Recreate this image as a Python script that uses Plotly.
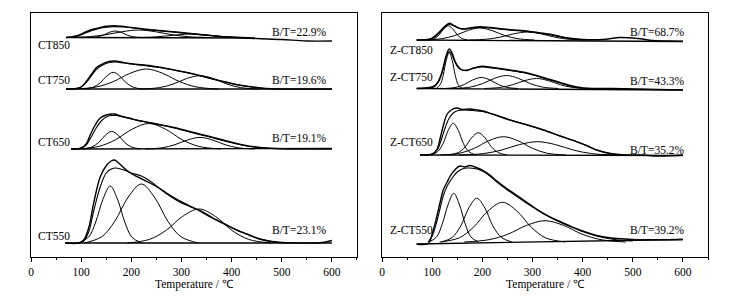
import plotly.graph_objects as go

# ---------------- data (heights above each profile's baseline) ----------------
# Left panel
ct550_exp_t = [68, 95, 105, 115, 125, 138, 151, 160, 167, 175, 190, 205, 217, 237, 255, 270, 290, 305, 320, 333, 350, 370, 390, 410, 430, 456, 480, 510, 560, 585, 600]
ct550_exp_h = [0, 0, 3, 15, 40, 66, 78, 82, 83, 80, 73, 68, 65, 60, 55, 50, 44, 40, 36, 33, 28, 23, 18, 13, 9, 4, 1.5, 0.3, 0, 0.8, 2.5]
ct550_fit_t = [68, 95, 105, 115, 125, 138, 150, 160, 170, 185, 200, 220, 240, 260, 280, 300, 320, 335, 350, 370, 390, 410, 430, 456, 480, 510]
ct550_fit_h = [0, 0, 2, 11, 32, 56, 70, 74, 75, 73, 70, 67, 61, 53, 46, 40, 36, 33, 29, 23, 18, 13, 9, 4, 1.5, 0.3]
ct550_peaks_t = [[96, 115, 129, 144, 158, 172, 187, 201, 220],
                 [106, 141, 167, 194, 220, 246, 273, 299, 334],
                 [192, 236, 269, 302, 335, 368, 401, 434, 478]]
ct550_peaks_h = [[0, 6, 21, 44.4, 57, 44.4, 21, 6, 0],
                 [0, 6.3, 21.7, 46, 59, 46, 21.7, 6.3, 0],
                 [0, 3.6, 12.5, 26.5, 34, 26.5, 12.5, 3.6, 0]]
ct550_base_t = [68, 600]
ct550_base_h = [0, 0]

ct650_exp_t = [80, 100, 110, 118, 128, 138, 150, 160, 167, 178, 195, 210, 224, 245, 265, 290, 320, 356, 390, 423, 456, 500, 600]
ct650_exp_h = [0, 1, 5, 14, 24, 31, 34, 35, 35, 33, 31, 29, 27.6, 25.5, 23.5, 21, 17, 12.6, 8, 4, 1.5, 0.3, 0]
ct650_fit_t = [80, 100, 110, 120, 130, 140, 150, 160, 170, 185, 200, 224, 250, 290, 320, 356, 390, 423, 456, 500]
ct650_fit_h = [0, 1, 4, 12, 21, 28, 32, 33.5, 33.5, 32, 30, 27.5, 25, 20.5, 16.5, 12, 7.5, 3.8, 1.3, 0.2]
ct650_peaks_t = [[104, 121, 135, 148, 161, 174, 187, 201, 218],
                 [92, 136, 169, 202, 235, 268, 301, 334, 378],
                 [228, 261, 287, 312, 337, 362, 387, 413, 446]]
ct650_peaks_h = [[0, 1.9, 6.5, 13.7, 17.6, 13.7, 6.5, 1.9, 0],
                 [0, 2.7, 9.4, 19.9, 25.5, 19.9, 9.4, 2.7, 0],
                 [0, 1.2, 4.3, 9.0, 11.6, 9.0, 4.3, 1.2, 0]]
ct650_base_t = [80, 600]
ct650_base_h = [0, 0.5]

ct750_exp_t = [70, 90, 100, 111, 121, 131, 145, 155, 167, 180, 195, 215, 235, 257, 290, 324, 355, 390, 420, 457, 480, 520, 600]
ct750_exp_h = [0, 0.5, 2, 8, 15, 21.7, 25.5, 27.5, 28, 27, 25.5, 24.5, 23.5, 21.7, 18.5, 15, 11, 6.7, 3.5, 1, 0.2, 0, 0]
ct750_fit_t = [70, 90, 100, 111, 121, 131, 145, 157, 170, 185, 200, 224, 257, 290, 324, 355, 390, 420, 457, 480]
ct750_fit_h = [0, 0.5, 2, 7, 13.5, 20, 24.5, 26.5, 27, 26, 25, 23.5, 21.5, 18.5, 15, 11, 6.7, 3.5, 1, 0.2]
ct750_peaks_t = [[107, 124, 138, 151, 164, 177, 190, 204, 221],
                 [87, 131, 164, 197, 230, 263, 296, 329, 373],
                 [220, 256, 283, 310, 337, 364, 391, 418, 454]]
ct750_peaks_h = [[0, 1.8, 6.1, 13, 16.7, 13, 6.1, 1.8, 0],
                 [0, 2.1, 7.4, 15.6, 20, 15.6, 7.4, 2.1, 0],
                 [0, 1.4, 4.9, 10.4, 13.3, 10.4, 4.9, 1.4, 0]]
ct750_base_t = [70, 600]
ct750_base_h = [0, 0]

ct850_exp_t = [70, 90, 111, 125, 138, 150, 164, 180, 200, 224, 255, 290, 337, 390, 450, 500, 550, 600]
ct850_exp_h = [0, 1.5, 6, 8.5, 10, 11.2, 11.7, 11.2, 10, 8.5, 7, 5.5, 3, 0.5, -1, -2, -3.5, -3.5]
ct850_fit_t = [70, 90, 111, 125, 140, 164, 185, 205, 224, 255, 290, 337, 390, 430]
ct850_fit_h = [0, 1, 5, 7.5, 9.5, 10.8, 10.5, 9.5, 8.3, 6.8, 5, 2.8, 0.7, 0]
ct850_peaks_t = [[116, 132, 144, 156, 168, 180, 192, 204, 220],
                 [72, 116, 149, 182, 215, 248, 281, 314, 358],
                 [203, 239, 266, 293, 320, 347, 374, 401, 437]]
ct850_peaks_h = [[0, 0.7, 2.4, 5.1, 6.5, 5.1, 2.4, 0.7, 0],
                 [0, 0.8, 2.8, 5.8, 7.5, 5.8, 2.8, 0.8, 0],
                 [0, 0.4, 1.3, 2.7, 3.5, 2.7, 1.3, 0.4, 0]]
ct850_base_t = [70, 450]
ct850_base_h = [0, -0.5]

# Right panel
zct550_exp_t = [69, 92, 100, 109, 116, 122, 130, 136, 145, 155, 165, 175, 185, 200, 215, 229, 250, 282, 308, 328, 350, 375, 400, 428, 450, 468, 500, 550, 600]
zct550_exp_h = [-2, -1.5, 8, 25, 40, 52, 60, 66, 72, 76, 75, 76.5, 75, 72, 67, 61, 53, 42, 33, 27, 21.5, 16, 11, 6.5, 4.5, 3.5, 2.5, 2.3, 2.5]
zct550_fit_t = [92, 100, 109, 116, 122, 130, 140, 150, 160, 170, 185, 200, 215, 229, 250, 282, 308, 328, 350, 375, 400, 428, 450, 470, 500]
zct550_fit_h = [0, 6, 20, 34, 46, 56, 64, 70, 73, 74, 73.5, 71, 66, 60, 52, 41, 32.5, 26.5, 21, 15.5, 10.5, 6, 3.5, 2, 1]
zct550_peaks_t = [[94, 109, 120, 132, 143, 154, 166, 177, 192],
                  [119, 140, 157, 173, 189, 205, 221, 238, 259],
                  [115, 154, 182, 211, 240, 269, 298, 326, 365],
                  [164, 213, 251, 288, 325, 362, 399, 437, 486]]
zct550_peaks_h = [[0, 5.2, 17.9, 37.9, 48.7, 37.9, 17.9, 5.2, 0],
                  [0, 4.6, 16.1, 34, 43.7, 34, 16.1, 4.6, 0],
                  [0, 4.2, 14.6, 30.9, 39.7, 30.9, 14.6, 4.2, 0],
                  [0, 2.3, 7.8, 16.6, 21.3, 16.6, 7.8, 2.3, 0]]
zct550_base_t = [69, 600]
zct550_base_h = [-2, 2.5]

zct650_exp_t = [76, 100, 110, 116, 122, 129, 138, 149, 160, 175, 190, 202, 220, 255, 290, 322, 355, 388, 410, 428, 455, 480, 520, 550, 600]
zct650_exp_h = [0, 1, 6, 17, 29, 40, 45, 47, 45.5, 46, 45, 44, 41, 35, 30, 25, 19, 13.3, 9, 5, 1.5, 0.3, 0, -1, 0]
zct650_fit_t = [76, 100, 110, 118, 125, 133, 142, 152, 165, 180, 200, 220, 255, 290, 322, 355, 388, 410, 428, 455, 480]
zct650_fit_h = [0, 1, 5, 15, 26, 36, 42, 44.5, 45, 44.5, 43.5, 41, 35, 30, 25, 19, 13.3, 9, 5, 1.5, 0.3]
zct650_peaks_t = [[98, 111, 122, 132, 142, 152, 162, 173, 186],
                  [135, 152, 166, 179, 192, 205, 218, 232, 249],
                  [117, 156, 184, 213, 242, 271, 300, 328, 367],
                  [154, 202, 238, 274, 310, 346, 382, 418, 466]]
zct650_peaks_h = [[0, 3.4, 11.7, 24.7, 31.7, 24.7, 11.7, 3.4, 0],
                  [0, 2.4, 8.2, 17.4, 22.3, 17.4, 8.2, 2.4, 0],
                  [0, 1.9, 6.7, 14.3, 18.3, 14.3, 6.7, 1.9, 0],
                  [0, 1.4, 4.9, 10.4, 13.3, 10.4, 4.9, 1.4, 0]]
zct650_base_t = [76, 600]
zct650_base_h = [0, -0.5]

zct750_exp_t = [69, 95, 105, 112, 118, 123, 128, 134, 140, 145, 150, 158, 169, 180, 199, 220, 255, 285, 308, 335, 355, 375, 388, 401, 420, 460, 600]
zct750_exp_h = [0, 1, 3, 7, 14, 23, 33, 39.5, 35, 28, 23, 19, 18, 20, 22.3, 21, 18.5, 16, 13, 9, 6, 3, 1.5, 0.5, 0, 0, -1.5]
zct750_fit_t = [95, 105, 112, 118, 124, 129, 134, 139, 145, 152, 160, 170, 185, 200, 220, 255, 285, 308, 335, 355, 375, 395]
zct750_fit_h = [0, 2, 6, 13, 24, 33, 37, 34, 27, 21, 18.5, 18.5, 20.5, 21.5, 20.5, 18, 15.5, 12.5, 8.5, 5.5, 2.5, 0.5]
zct750_peaks_t = [[108, 116, 122, 128, 134, 140, 146, 152, 160],
                  [125, 148, 164, 181, 198, 215, 232, 248, 271],
                  [144, 176, 200, 224, 248, 272, 296, 320, 352],
                  [204, 236, 260, 284, 308, 332, 356, 380, 412]]
zct750_peaks_h = [[0, 3.8, 13.2, 28, 36, 28, 13.2, 3.8, 0],
                  [0, 1.2, 4, 8.6, 11, 8.6, 4, 1.2, 0],
                  [0, 1.4, 4.8, 10.1, 13, 10.1, 4.8, 1.4, 0],
                  [0, 1.1, 3.7, 7.8, 10, 7.8, 3.7, 1.1, 0]]
zct750_base_t = [69, 600]
zct750_base_h = [0, -1.5]

zct850_exp_t = [69, 90, 100, 110, 118, 126, 135, 145, 159, 175, 195, 215, 242, 265, 288, 310, 335, 355, 375, 400, 440, 475, 510, 540, 570, 600]
zct850_exp_h = [0, 0.5, 2, 6, 10, 14, 16.7, 14, 11, 12, 13.3, 12.5, 11, 10, 9, 7.5, 5.7, 3.5, 1.7, 0.5, 0.5, 2.5, 1.5, -0.5, -1, -1.2]
zct850_fit_t = [90, 100, 110, 118, 126, 134, 142, 152, 165, 180, 195, 215, 242, 265, 288, 310, 335, 355, 375, 400]
zct850_fit_h = [0, 1.5, 5, 9, 13, 15.5, 14.5, 12, 11, 12, 12.8, 12, 10.5, 9.5, 8.5, 7, 5.3, 3.2, 1.5, 0.3]
zct850_peaks_t = [[93, 105, 114, 123, 132, 141, 150, 159, 171],
                  [86, 119, 145, 170, 195, 220, 245, 271, 304],
                  [173, 209, 236, 263, 290, 317, 344, 371, 407]]
zct850_peaks_h = [[0, 1.5, 5.3, 11.1, 14.3, 11.1, 5.3, 1.5, 0],
                  [0, 1.3, 4.4, 9.3, 12, 9.3, 4.4, 1.3, 0],
                  [0, 0.8, 2.9, 6.2, 8, 6.2, 2.9, 0.8, 0]]
zct850_base_t = [69, 600]
zct850_base_h = [0, -1.5]

left_names = ["CT850", "CT750", "CT650", "CT550"]
left_ratios = ["B/T=22.9%", "B/T=19.6%", "B/T=19.1%", "B/T=23.1%"]
right_names = ["Z-CT850", "Z-CT750", "Z-CT650", "Z-CT550"]
right_ratios = ["B/T=68.7%", "B/T=43.3%", "B/T=35.2%", "B/T=39.2%"]
x_ticks = [0, 100, 200, 300, 400, 500, 600]

# ---------------- layout of the stack (vertical offsets & label positions) ----------------
profiles = [
    ("x", "y", 14, ct550_exp_t, ct550_exp_h, ct550_fit_t, ct550_fit_h, ct550_peaks_t, ct550_peaks_h, ct550_base_t, ct550_base_h),
    ("x", "y", 108, ct650_exp_t, ct650_exp_h, ct650_fit_t, ct650_fit_h, ct650_peaks_t, ct650_peaks_h, ct650_base_t, ct650_base_h),
    ("x", "y", 168, ct750_exp_t, ct750_exp_h, ct750_fit_t, ct750_fit_h, ct750_peaks_t, ct750_peaks_h, ct750_base_t, ct750_base_h),
    ("x", "y", 219.5, ct850_exp_t, ct850_exp_h, ct850_fit_t, ct850_fit_h, ct850_peaks_t, ct850_peaks_h, ct850_base_t, ct850_base_h),
    ("x2", "y2", 15, zct550_exp_t, zct550_exp_h, zct550_fit_t, zct550_fit_h, zct550_peaks_t, zct550_peaks_h, zct550_base_t, zct550_base_h),
    ("x2", "y2", 102, zct650_exp_t, zct650_exp_h, zct650_fit_t, zct650_fit_h, zct650_peaks_t, zct650_peaks_h, zct650_base_t, zct650_base_h),
    ("x2", "y2", 168.5, zct750_exp_t, zct750_exp_h, zct750_fit_t, zct750_fit_h, zct750_peaks_t, zct750_peaks_h, zct750_base_t, zct750_base_h),
    ("x2", "y2", 217, zct850_exp_t, zct850_exp_h, zct850_fit_t, zct850_fit_h, zct850_peaks_t, zct850_peaks_h, zct850_base_t, zct850_base_h),
]

fig = go.Figure()


def add_line(t, h, base, xa, ya, width, shape="spline"):
    fig.add_trace(go.Scatter(
        x=t, y=[base + v for v in h], mode="lines", xaxis=xa, yaxis=ya,
        line=dict(color="black", width=width, shape=shape, smoothing=1.0),
        hoverinfo="skip", showlegend=False, cliponaxis=True))


for xa, ya, base, et, eh, ft, fh, pts, phs, bt, bh in profiles:
    add_line(bt, bh, base, xa, ya, 1.3, shape="linear")
    for pt, ph in zip(pts, phs):
        add_line(pt, ph, base, xa, ya, 1.0)
    add_line(ft, fh, base, xa, ya, 1.1)
    add_line(et, eh, base, xa, ya, 1.4)

FONT = "Liberation Serif, Times New Roman, Times, serif"
FS = 11.5
name_y_left = [212, 177, 115.5, 21]
ratio_y_left = [224.7, 177, 119.3, 27]
name_y_right = [207, 179.7, 115.5, 27]
ratio_y_right = [224.7, 176, 107, 27]

annotations = []
for n, yv in zip(left_names, name_y_left):
    annotations.append(dict(x=10, y=yv, xref="x", yref="y", text=n, showarrow=False,
                            xanchor="left", yanchor="middle", font=dict(family=FONT, size=FS, color="black")))
for n, yv in zip(left_ratios, ratio_y_left):
    annotations.append(dict(x=594, y=yv, xref="x", yref="y", text=n, showarrow=False,
                            xanchor="right", yanchor="middle", font=dict(family=FONT, size=FS, color="black")))
for n, yv in zip(right_names, name_y_right):
    annotations.append(dict(x=11, y=yv, xref="x2", yref="y2", text=n, showarrow=False,
                            xanchor="left", yanchor="middle", font=dict(family=FONT, size=FS, color="black")))
for n, yv in zip(right_ratios, ratio_y_right):
    annotations.append(dict(x=609, y=yv, xref="x2", yref="y2", text=n, showarrow=False,
                            xanchor="right", yanchor="middle", font=dict(family=FONT, size=FS, color="black")))

xaxis_common = dict(range=[0, 650], tickvals=x_ticks, ticks="outside", ticklen=4, tickwidth=1,
                    tickcolor="black", showline=True, linecolor="black", linewidth=1, mirror=True,
                    showgrid=False, zeroline=False, automargin=False,
                    minor=dict(ticks="outside", ticklen=2, dtick=50, tick0=0, tickcolor="black", showgrid=False),
                    tickfont=dict(family=FONT, size=FS, color="black"),
                    title=dict(text="Temperature / ℃", font=dict(family=FONT, size=FS, color="black"), standoff=2))
yaxis_common = dict(range=[0, 244], showticklabels=False, ticks="", showline=True, linecolor="black",
                    linewidth=1, mirror=True, showgrid=False, zeroline=False, automargin=False)

# The page body has an 8 px default margin, so the figure is sized to end at the window edge.
fig.update_layout(
    width=733, height=290,
    margin=dict(l=23, r=33, t=5, b=41, autoexpand=False),
    paper_bgcolor="white", plot_bgcolor="white",
    xaxis=dict(domain=[0, 0.4815], anchor="y", **xaxis_common),
    yaxis=dict(domain=[0, 1], anchor="x", **yaxis_common),
    xaxis2=dict(domain=[0.5185, 1], anchor="y2", **xaxis_common),
    yaxis2=dict(domain=[0, 1], anchor="x2", **yaxis_common),
    annotations=annotations,
    showlegend=False,
)

fig.write_html("out.html")
